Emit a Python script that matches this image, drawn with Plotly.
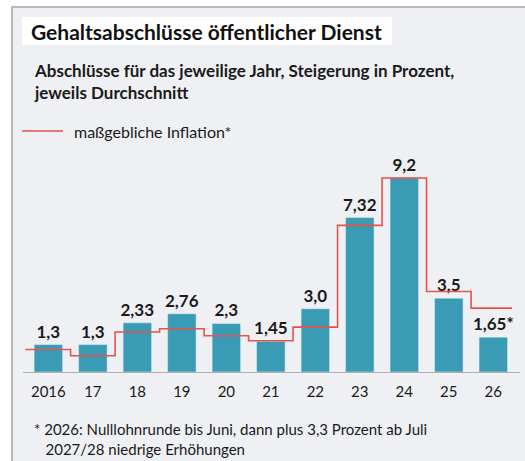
import plotly.graph_objects as go

years = ["2016", "17", "18", "19", "20", "21", "22", "23", "24", "25", "26"]
abschluss = [1.3, 1.3, 2.33, 2.76, 2.3, 1.45, 3.0, 7.32, 9.2, 3.5, 1.65]
labels = ["1,3", "1,3", "2,33", "2,76", "2,3", "1,45", "3,0", "7,32", "9,2", "3,5", "1,65*"]
inflation = [1.07, 0.77, 1.9, 2.05, 1.72, 1.48, 2.13, 6.95, 9.2, 3.82, 3.03]

W, H = 525, 461
FONT = "Lato"
BAR = "#3a9bb5"
RED = "#e5534b"
BG = "#eef0f4"

def px(x):
    return x / W

def py(y):
    return 1 - y / H

idx = list(range(len(years)))
# step line: edges between bars
step_x = [-0.52] + [i - 0.5 for i in idx[1:]] + [idx[-1] + 0.42]
step_y = inflation + [inflation[-1]]

fig = go.Figure()
fig.add_trace(go.Bar(
    x=idx, y=abschluss, marker_color=BAR, width=0.64,
    text=labels, textposition="outside", cliponaxis=False,
    textfont=dict(family=FONT, size=17, color="#1a1a1a", weight="bold"),
    showlegend=False, hoverinfo="skip",
))
fig.add_trace(go.Scatter(
    x=step_x, y=step_y, mode="lines", line=dict(color=RED, width=1.6, shape="hv"),
    showlegend=False, hoverinfo="skip", cliponaxis=False,
))

shapes = [
    dict(type="rect", xref="paper", yref="paper", x0=px(12), x1=px(540), y0=py(7), y1=py(480),
         fillcolor=BG, line=dict(color="#b8b8b8", width=2), layer="below"),
    dict(type="rect", xref="paper", yref="paper", x0=px(22), x1=px(392), y0=py(17), y1=py(45),
         fillcolor="white", line=dict(width=0), layer="below"),
    dict(type="line", xref="paper", yref="paper", x0=px(22), x1=px(63), y0=py(131), y1=py(131),
         line=dict(color=RED, width=1.6)),
]

ann = [
    dict(text="<b>Gehaltsabschlüsse öffentlicher Dienst</b>", x=px(29), y=py(31),
         font=dict(family=FONT, size=21, color="#111")),
    dict(text="<b>Abschlüsse für das jeweilige Jahr, Steigerung in Prozent,<br>jeweils Durchschnitt</b>",
         x=px(32), y=py(82), font=dict(family=FONT, size=17, color="#1a1a1a")),
    dict(text="maßgebliche Inflation*", x=px(72), y=py(131),
         font=dict(family=FONT, size=16, color="#1a1a1a")),
    dict(text="* 2026: Nulllohnrunde bis Juni, dann plus 3,3 Prozent ab Juli<br>   2027/28 niedrige Erhöhungen",
         x=px(32), y=py(439), font=dict(family=FONT, size=15, color="#1a1a1a")),
]
for a in ann:
    a.update(xref="paper", yref="paper", xanchor="left", yanchor="middle", showarrow=False, align="left")

fig.update_layout(
    width=W, height=H,
    margin=dict(l=0, r=0, t=0, b=0),
    paper_bgcolor="white", plot_bgcolor="rgba(0,0,0,0)",
    shapes=shapes, annotations=ann,
    bargap=0.36, uniformtext=dict(mode=False), 
    xaxis=dict(domain=[px(23), px(520)], range=[-0.57, 10.6], tickvals=idx, ticktext=years,
               showgrid=False, zeroline=False, showline=True, linecolor="#b0b0b0", linewidth=1.2,
               ticks="", ticklabelstandoff=6,
               tickfont=dict(family=FONT, size=15, color="#1a1a1a"), fixedrange=True),
    yaxis=dict(domain=[1 - 372 / H, 1 - 140 / H], range=[0, 11.0], visible=False, fixedrange=True),
)
fig.update_traces(selector=dict(type="bar"), constraintext="none")

fig.write_html(
    "out.html",
    config={"displayModeBar": False},
    post_script="document.body.style.margin='0';document.body.style.overflow='hidden';",
)
